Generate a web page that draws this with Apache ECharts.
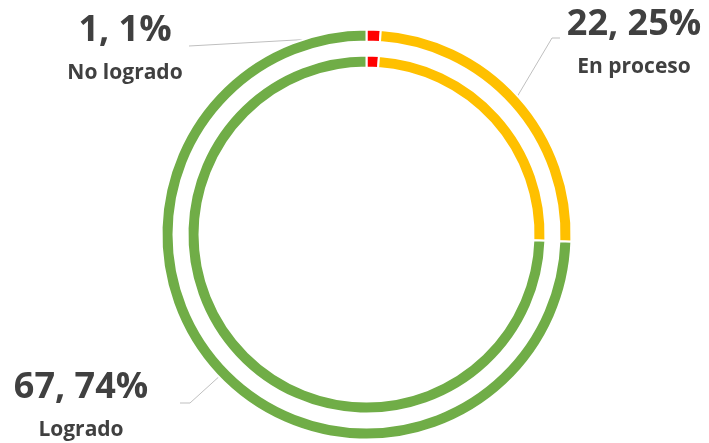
<!DOCTYPE html>
<html>
<head>
<meta charset="utf-8">
<script src="https://cdn.jsdelivr.net/npm/echarts@6/dist/echarts.min.js"></script>
<style>
  html, body { margin: 0; padding: 0; background: #fff; }
  #chart { width: 709px; height: 443px; }
</style>
</head>
<body>
<div id="chart"></div>
<script>
// datos
const categories = ['No logrado', 'En proceso', 'Logrado'];
const outerValues = [1, 22, 67];
const innerValues = [1, 22, 67];
const pctLabels = ['1%', '25%', '74%'];
const colors = ['#FF0000', '#FFC000', '#70AD47'];

// centro y radios de los anillos
const CX = 366.5, CY = 234.5;
const ANCHOR_R = 199;

// donde van las etiquetas (centro del bloque) y los codos de las líneas guía
const labelSpots = [
  { x: 125, y: 52, line: [[200, 45.4], [189, 46]] },
  { x: 634, y: 46, line: [[552, 38], [560, 38]] },
  { x: 81, y: 409, line: [[190, 403], [180, 403]] }
];

const chart = echarts.init(document.getElementById('chart'));

function anchorPoint(params) {
  let p = params.labelLinePoints && params.labelLinePoints[0];
  if (!p) {
    // respaldo: ángulo medio del sector
    const total = outerValues.reduce((a, b) => a + b, 0);
    let before = 0;
    for (let i = 0; i < params.dataIndex; i++) before += outerValues[i];
    const frac = (before + outerValues[params.dataIndex] / 2) / total;
    const a = frac * Math.PI * 2;
    return [CX + ANCHOR_R * Math.sin(a), CY - ANCHOR_R * Math.cos(a)];
  }
  const dx = p[0] - CX, dy = p[1] - CY;
  const d = Math.sqrt(dx * dx + dy * dy) || 1;
  return [CX + dx / d * ANCHOR_R, CY + dy / d * ANCHOR_R];
}

const ringStyle = {
  borderColor: '#fff',
  borderWidth: 2
};

const option = {
  animation: false,
  color: colors,
  series: [
    {
      name: 'exterior',
      type: 'pie',
      center: [CX, CY],
      radius: [193, 205],
      startAngle: 90,
      clockwise: true,
      silent: true,
      itemStyle: ringStyle,
      emphasis: { disabled: true },
      label: {
        show: true,
        position: 'outside',
        overflow: 'none',
        formatter: (p) => `{v|${p.value}, ${pctLabels[p.dataIndex]}}\n{n|${p.name}}`,
        rich: {
          v: {
            fontFamily: 'Open Sans',
            fontSize: 36,
            fontWeight: 'bold',
            color: '#404040',
            lineHeight: 42,
            align: 'center'
          },
          n: {
            fontFamily: 'Open Sans',
            fontSize: 21,
            fontWeight: 'bold',
            color: '#404040',
            lineHeight: 42,
            align: 'center'
          }
        }
      },
      labelLine: {
        show: true,
        lineStyle: { color: '#BFBFBF', width: 1 }
      },
      labelLayout: (params) => {
        const s = labelSpots[params.dataIndex];
        return {
          x: s.x,
          y: s.y,
          align: 'center',
          verticalAlign: 'middle',
          labelLinePoints: [anchorPoint(params), s.line[0], s.line[1]]
        };
      },
      data: categories.map((c, i) => ({ name: c, value: outerValues[i] }))
    },
    {
      name: 'interior',
      type: 'pie',
      center: [CX, CY],
      radius: [167, 179],
      startAngle: 90,
      clockwise: true,
      silent: true,
      itemStyle: ringStyle,
      emphasis: { disabled: true },
      label: { show: false },
      labelLine: { show: false },
      data: categories.map((c, i) => ({ name: c, value: innerValues[i] }))
    }
  ]
};

chart.setOption(option);
</script>
</body>
</html>
